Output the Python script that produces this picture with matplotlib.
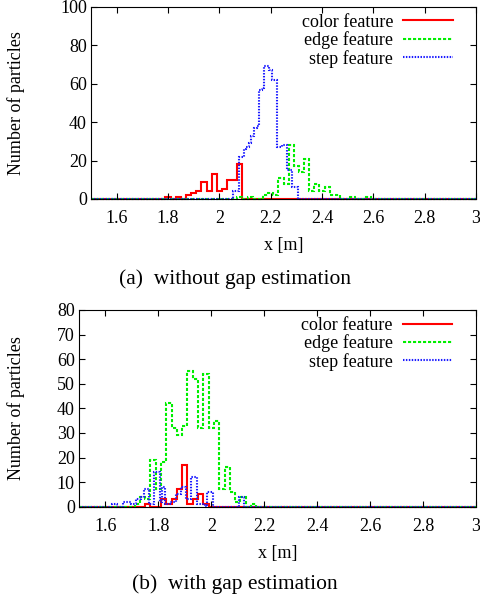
import numpy as np
import matplotlib
matplotlib.use("Agg")
import matplotlib.pyplot as plt

plt.rcParams['font.family'] = ['Liberation Serif', 'DejaVu Serif']
plt.rcParams['font.size'] = 13

# (a) without gap estimation -- bin centres [m] and particle counts
a_color_x = [1.80, 1.84, 1.88, 1.90, 1.92, 1.94, 1.96, 1.98, 2.00, 2.02, 2.04, 2.06, 2.08]
a_color_n = [1, 1, 2, 3, 4, 9, 4, 13, 4, 5, 10, 10, 18]

a_edge_x = [2.08, 2.12, 2.18, 2.20, 2.22, 2.24, 2.26, 2.28, 2.30, 2.32, 2.34, 2.36,
            2.38, 2.40, 2.42, 2.44, 2.46, 2.52, 2.58]
a_edge_n = [1, 1, 2, 3, 2, 11, 8, 28, 17, 14, 21, 4, 8, 4, 6, 2, 2, 1, 1]

a_step_x = [2.06, 2.07, 2.08, 2.09, 2.10, 2.11, 2.12, 2.13, 2.14, 2.15, 2.16, 2.17, 2.18,
            2.19, 2.20, 2.21, 2.22, 2.23, 2.24, 2.25, 2.26, 2.27, 2.28, 2.29, 2.30]
a_step_n = [4, 4, 22, 22, 26, 27, 29, 33, 37, 38, 57, 58, 69, 69, 67, 62, 62, 27, 27, 28,
            28, 15, 15, 6, 6]

# (b) with gap estimation
b_color_x = [1.76, 1.82, 1.84, 1.86, 1.88, 1.90, 1.92, 1.94, 1.96, 1.98]
b_color_n = [1, 3, 1, 3, 7, 17, 1, 3, 5, 1]

b_edge_x = [1.72, 1.74, 1.76, 1.78, 1.80, 1.82, 1.84, 1.86, 1.88, 1.90, 1.92, 1.94,
            1.96, 1.98, 2.00, 2.02, 2.04, 2.06, 2.08, 2.10, 2.12, 2.16]
b_edge_n = [1, 4, 3, 19, 7, 18, 42, 32, 29, 33, 55, 52, 32, 54, 32, 35, 7, 16, 6, 2, 4, 1]

b_step_x = [1.63, 1.64, 1.67, 1.68, 1.69, 1.70, 1.71, 1.72, 1.73, 1.74, 1.75, 1.76, 1.77,
            1.78, 1.79, 1.80, 1.81, 1.82, 1.83, 1.84, 1.85, 1.86, 1.87, 1.88, 1.89, 1.90,
            1.91, 1.92, 1.93, 1.94, 1.95, 1.96, 1.97, 1.99, 2.00, 2.11, 2.12]
b_step_n = [1, 1, 2, 2, 2, 1, 1, 3, 3, 4, 7, 7, 1, 1, 14, 14, 2, 8, 1, 1, 2, 2, 5, 5, 8, 8,
            3, 3, 12, 12, 1, 1, 1, 6, 6, 4, 4]

x_ticks = [1.6, 1.8, 2.0, 2.2, 2.4, 2.6, 2.8, 3.0]
x_ticklabels = ['1.6', '1.8', '2', '2.2', '2.4', '2.6', '2.8', '3']


def on_grid(centers, counts, w):
    # put the counts on a full grid of bins from 1.5 to 3 (zeros elsewhere)
    c = np.round(np.arange(1.5, 3.0 + w / 2, w), 3)
    vals = np.zeros(len(c))
    for x, n in zip(centers, counts):
        vals[np.argmin(np.abs(c - x))] = n
    edges = np.concatenate([[1.5], (c[:-1] + c[1:]) / 2, [3.0]])
    return vals, edges


def panel(ax, series, ymax, ystep):
    styles = [dict(color='#ff0000', linestyle='-', label='color feature'),
              dict(color='#00ee00', linestyle=(0, (1.5, 0.9)), label='edge feature'),
              dict(color='#1a1aff', linestyle=(0, (0.7, 0.7)), label='step feature')]
    for (cx, cn, w), st in zip(series, styles):
        vals, edges = on_grid(cx, cn, w)
        ax.stairs(vals, edges, baseline=None, linewidth=1.5, clip_on=False, **st)
    ax.set_xlim(1.5, 3.0)
    ax.set_ylim(0, ymax)
    ax.set_xticks(x_ticks)
    ax.set_xticklabels(x_ticklabels)
    ax.set_yticks(np.arange(0, ymax + 1, ystep))
    ax.tick_params(direction='in', top=True, right=True, length=4, width=0.8,
                   labelsize=13)
    ax.tick_params(axis='x', pad=8)
    ax.tick_params(axis='y', pad=3)
    for s in ax.spines.values():
        s.set_linewidth(0.8)
    ax.set_xlabel('x [m]', labelpad=7)
    ax.set_ylabel('Number of particles')
    ax.legend(loc='upper right', bbox_to_anchor=(0.94, 0.965), frameon=False,
              markerfirst=False, handlelength=2.75, handletextpad=0.55,
              labelspacing=0.03, borderpad=0, borderaxespad=0, fontsize=13)


fig = plt.figure(figsize=(4.81, 6.01), dpi=100)
ax1 = fig.add_axes([0.1892, 0.6689, 0.8004, 0.3195])
ax2 = fig.add_axes([0.1642, 0.1569, 0.8254, 0.3273])

panel(ax1, [(a_color_x, a_color_n, 0.02), (a_edge_x, a_edge_n, 0.02),
            (a_step_x, a_step_n, 0.01)], 100, 20)
panel(ax2, [(b_color_x, b_color_n, 0.02), (b_edge_x, b_edge_n, 0.02),
            (b_step_x, b_step_n, 0.01)], 80, 10)

ax1.yaxis.set_label_coords(-0.172, 0.5)
ax2.yaxis.set_label_coords(-0.137, 0.5)

fig.text(0.488, 1 - 279 / 601, '(a)  without gap estimation', ha='center', va='center',
         fontsize=15.5)
fig.text(0.488, 1 - 584 / 601, '(b)  with gap estimation', ha='center', va='center',
         fontsize=15.5)

fig.savefig('out.png', dpi=100)
